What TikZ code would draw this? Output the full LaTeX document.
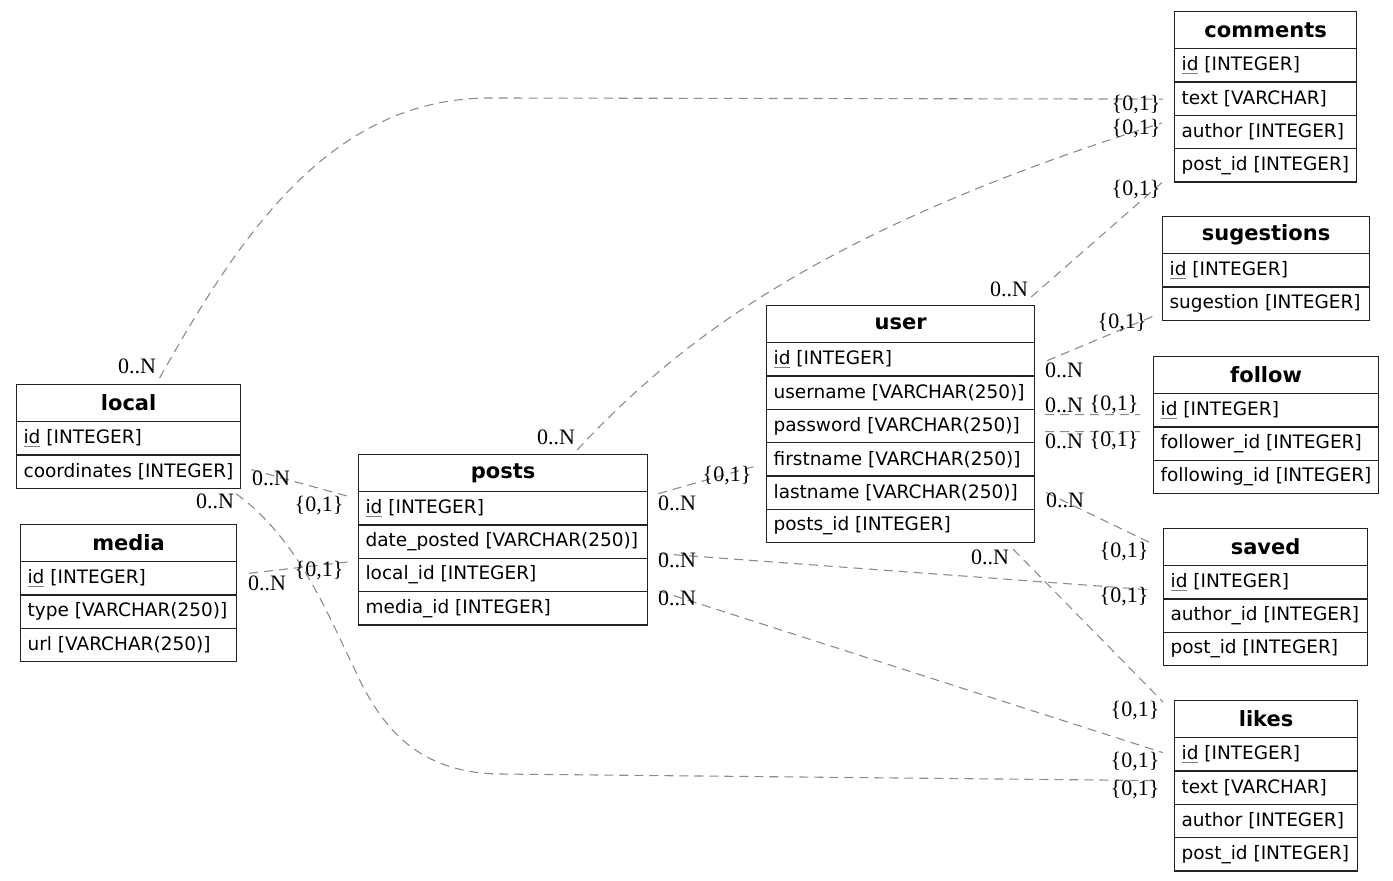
\documentclass[tikz,border=0pt]{standalone}
\usepackage{fontspec}
\setmainfont{Liberation Serif}
\newfontfamily\tabfont{DejaVu Sans}
\definecolor{edgegray}{HTML}{8C8C8C}
\definecolor{tabline}{HTML}{222222}
\newcommand\pkey[1]{{\setbox0\hbox{#1}\rlap{\color{gray}\rule[-3pt]{\wd0}{1pt}}\box0}}
\newcommand\dbtable[6]{%
  \pgfmathsetmacro\tabw{#3-#2}%
  \pgfmathsetmacro\tabtw{#3-#2-14}%
  \node[tabhead, minimum width=\tabw pt, anchor=north west] (#1) at (#2,#4) {#5};
  \foreach \r [count=\i] in {#6} {
    \node[tabrow, minimum width=\tabw pt, anchor=north west] (#1-\i) at (#2, {#4+37+(\i-1)*33.33}) {\makebox[\tabtw pt][l]{\r}};
  }%
}
\begin{document}
\begin{tikzpicture}[x=1pt,y=-1pt,
  tabhead/.style={draw=tabline, line width=1.2pt, minimum height=37pt, inner sep=0pt,
    font=\tabfont\bfseries\fontsize{21}{22}\selectfont},
  tabrow/.style={draw=tabline, line width=1.2pt, minimum height=33.33pt, inner xsep=7pt, inner ysep=0pt,
    font=\tabfont\fontsize{18.5}{20}\selectfont},
  rel/.style={draw=edgegray, line width=1.1pt, dash pattern=on 9pt off 6pt},
  card/.style={inner sep=0pt, font=\fontsize{22}{24}\selectfont}]
\useasboundingbox (0,0) rectangle (1393,881);

% tables
\dbtable{comments}{1174}{1356}{11}{comments}{\pkey{id} [INTEGER], text [VARCHAR], author [INTEGER], post\_id [INTEGER]}
\dbtable{sugestions}{1162}{1369}{216}{sugestions}{\pkey{id} [INTEGER], sugestion [INTEGER]}
\dbtable{follow}{1153}{1378}{356}{follow}{\pkey{id} [INTEGER], follower\_id [INTEGER], following\_id [INTEGER]}
\dbtable{user}{766}{1034}{305}{user}{\pkey{id} [INTEGER], username [VARCHAR(250)], password [VARCHAR(250)], firstname [VARCHAR(250)], lastname [VARCHAR(250)], posts\_id [INTEGER]}
\dbtable{local}{16}{240}{384}{local}{\pkey{id} [INTEGER], coordinates [INTEGER]}
\dbtable{media}{20}{236}{524}{media}{\pkey{id} [INTEGER], type [VARCHAR(250)], url [VARCHAR(250)]}
\dbtable{posts}{358}{647}{454}{posts}{\pkey{id} [INTEGER], date\_posted [VARCHAR(250)], local\_id [INTEGER], media\_id [INTEGER]}
\dbtable{saved}{1163}{1367}{528}{saved}{\pkey{id} [INTEGER], author\_id [INTEGER], post\_id [INTEGER]}
\dbtable{likes}{1174}{1357}{700}{likes}{\pkey{id} [INTEGER], text [VARCHAR], author [INTEGER], post\_id [INTEGER]}

% connectors
\draw[rel] ([shift={(31,-6)}]local.north) .. controls (240,235) and (330,98) .. (490,98) -- ([shift={(-11,0.5)}]comments-2.west);
\draw[rel] ([shift={(74,-4)}]posts.north) .. controls (680,340) and (820,230) .. ([shift={(-12,-9)}]comments-3.west);
\draw[rel] ([shift={(-4,-8)}]user.north east) -- ([shift={(-12,0)}]comments-4.south west);
\draw[rel] ([shift={(12,1.4)}]user-1.east) -- ([shift={(-8,-5)}]sugestions-2.south west);
\draw[rel] ([shift={(10,-11.3)}]user-3.east) -- ([shift={(-13,4.4)}]follow-1.west);
\draw[rel] ([shift={(10,5.7)}]user-3.east) -- ([shift={(-13,-12)}]follow-2.west);
\draw[rel] ([shift={(11,0)}]user-5.east) -- ([shift={(-11,-3.5)}]saved.west);
\draw[rel] ([shift={(-22,6)}]user-6.south east) -- ([shift={(-11,2)}]likes.north west);
\draw[rel] ([shift={(11,12)}]posts-2.east) -- ([shift={(-15,7.4)}]saved-1.west);
\draw[rel] ([shift={(11,16)}]posts-3.east) -- ([shift={(-11,-1.6)}]likes-1.west);
\draw[rel] ([shift={(10,-14.6)}]posts-1.east) -- ([shift={(-9,6.4)}]user-4.west);
\draw[rel] ([shift={(10,-2)}]local-2.east) -- ([shift={(-10,-12)}]posts-1.west);
\draw[rel] ([shift={(12,-5)}]media-1.east) -- ([shift={(-10,-13)}]posts-3.west);
\draw[rel] ([shift={(-5,5)}]local-2.south east) .. controls (300,540) and (330,620) .. (355,670)
  .. controls (382,730) and (420,773) .. (500,774) -- ([shift={(-16,-7)}]likes-2.west);

% cardinality labels
\node[card] (n1) at (137,366) {0..N};   \node[card] (o1) at (1136,105) {\{0,1\}};
\node[card] (n2) at (556,437) {0..N};   \node[card] (o2) at (1136,129) {\{0,1\}};
\node[card] (n3) at (1009,289) {0..N};  \node[card] (o3) at (1136,190) {\{0,1\}};
\node[card] (n4) at (1064,370) {0..N};  \node[card] (o4) at (1122,323) {\{0,1\}};
\node[card] (n5) at (1064,405) {0..N};  \node[card] (o5) at (1114,405) {\{0,1\}};
\node[card] (n6) at (1064,441) {0..N};  \node[card] (o6) at (1114,441) {\{0,1\}};
\node[card] (n7) at (1065,500) {0..N};  \node[card] (o7) at (1124,552) {\{0,1\}};
\node[card] (n8) at (990,557) {0..N};   \node[card] (o8) at (1135,711) {\{0,1\}};
\node[card] (n9) at (677,560) {0..N};   \node[card] (o9) at (1124,597) {\{0,1\}};
\node[card] (n10) at (677,598) {0..N};  \node[card] (o10) at (1135,762) {\{0,1\}};
\node[card] (n11) at (677,503) {0..N};  \node[card] (o11) at (727,476) {\{0,1\}};
\node[card] (n12) at (271,478) {0..N};  \node[card] (o12) at (319,506) {\{0,1\}};
\node[card] (n13) at (267,583) {0..N};  \node[card] (o13) at (319,571) {\{0,1\}};
\node[card] (n14) at (215,501) {0..N};  \node[card] (o14) at (1135,790) {\{0,1\}};
\end{tikzpicture}
\end{document}
